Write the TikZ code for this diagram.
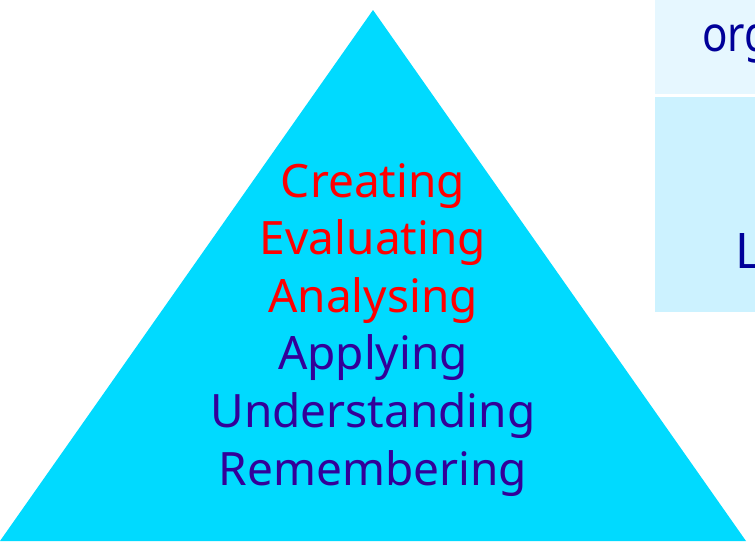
\documentclass[tikz,border=0pt]{standalone}
\usepackage{fontspec}
\setmainfont{Noto Sans}
\definecolor{pyramid}{RGB}{0,218,255}
\definecolor{higher}{RGB}{255,0,0}
\definecolor{lower}{RGB}{51,0,153}
\definecolor{boxtext}{RGB}{0,0,153}
\definecolor{boxa}{RGB}{230,247,255}
\definecolor{boxb}{RGB}{204,242,255}
\begin{document}
\begin{tikzpicture}[x=1pt,y=-1pt,inner sep=0pt,
  level/.style={anchor=base,font=\fontsize{46}{55}\selectfont},
  side/.style={anchor=base west,text=boxtext,font=\fontsize{49}{59}\selectfont}]
\useasboundingbox (0,0) rectangle (755,541);
\clip (0,0) rectangle (755,541);
% pyramid
\fill[pyramid] (373,10) -- (746,541) -- (0,541) -- cycle;
% boxes on the right
\fill[boxa] (655,0) rectangle (760,94);
\fill[boxb] (655,97) rectangle (760,312);
\node[side] (org) at (702,51) {\scalebox{0.86}[1]{org}};
\node[side] (low) at (735,268) {L};
% levels, top to bottom
\node[level,text=higher] (create) at (373,197) {Creating};
\node[level,text=higher] (eval) at (373,254.6) {Evaluating};
\node[level,text=higher] (analyse) at (373,312.2) {Analysing};
\node[level,text=lower] (apply) at (373,369.8) {Applying};
\node[level,text=lower] (understand) at (373,427.4) {Understanding};
\node[level,text=lower] (remember) at (373,485) {Remembering};
\end{tikzpicture}
\end{document}
